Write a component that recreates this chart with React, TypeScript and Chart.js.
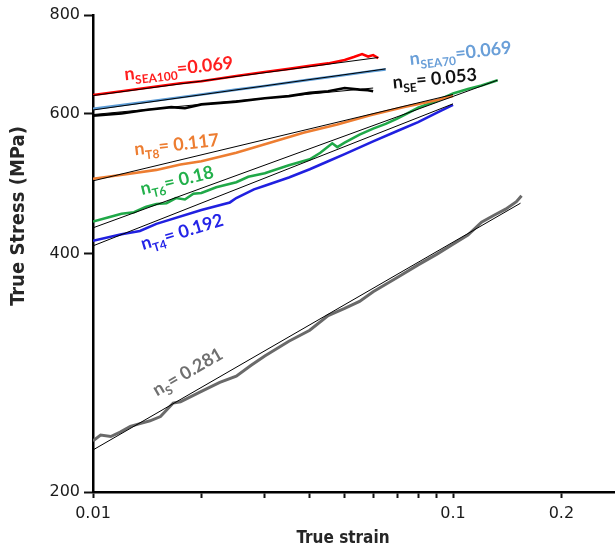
import React, { useEffect, useRef } from 'react';
import { Chart, registerables } from 'chart.js';

Chart.register(...registerables);

// ---- axis ticks ----
const xTickValues = [0.01, 0.02, 0.03, 0.04, 0.05, 0.06, 0.07, 0.08, 0.09, 0.1, 0.2];
const xTickLabels = ['0.01', '', '', '', '', '', '', '', '', '0.1', '0.2'];
const yTickValues = [200, 400, 600, 800];
const yTickLabels = ['200', '400', '600', '800'];

// ---- measured curves (true strain, true stress MPa) ----
const sea100X = [0.01, 0.012, 0.015, 0.0175, 0.02, 0.025, 0.03, 0.035, 0.04, 0.045, 0.05, 0.053, 0.0559, 0.0581, 0.06, 0.062];
const sea100Y = [634, 641, 650, 656, 660, 670, 678, 684, 690, 695, 702, 708, 714, 709, 712, 706];

const sea70X = [0.01, 0.015, 0.02, 0.025, 0.03, 0.04, 0.05, 0.06, 0.065];
const sea70Y = [609, 624, 635, 644, 651, 663, 672, 680, 683];

const seX = [0.01, 0.012, 0.014, 0.0165, 0.018, 0.02, 0.025, 0.03, 0.035, 0.04, 0.045, 0.05, 0.055, 0.058, 0.06];
const seY = [597, 601, 607, 612, 610, 617, 622, 628, 632, 638, 641, 647, 644, 643, 641];

const t8X = [0.01, 0.0125, 0.015, 0.0175, 0.02, 0.025, 0.031, 0.0384, 0.0477, 0.0589, 0.0727, 0.0905, 0.1];
const t8Y = [497, 504, 510, 518, 523, 536, 552, 568, 582, 598, 612, 625, 632];

const t6X = [0.01, 0.011, 0.012, 0.013, 0.014, 0.015, 0.016, 0.017, 0.018, 0.019, 0.02, 0.022, 0.025, 0.027, 0.03, 0.035, 0.04, 0.0428, 0.0462, 0.0477, 0.05, 0.055, 0.06, 0.065, 0.07, 0.08, 0.09, 0.1, 0.11, 0.12, 0.133];
const t6Y = [439, 444, 449, 451, 458, 462, 463, 470, 468, 476, 477, 485, 492, 500, 505, 517, 526, 536, 551, 545, 552, 565, 575, 583, 592, 611, 623, 637, 645, 652, 662];

const t4X = [0.01, 0.012, 0.0135, 0.015, 0.02, 0.024, 0.025, 0.028, 0.03, 0.035, 0.04, 0.045, 0.05, 0.06, 0.07, 0.08, 0.09, 0.1];
const t4Y = [415, 423, 427, 436, 454, 464, 470, 482, 487, 499, 511, 523, 534, 554, 571, 586, 602, 616];

const sX = [0.01, 0.0105, 0.0112, 0.0119, 0.0127, 0.0135, 0.0144, 0.0154, 0.0167, 0.0175, 0.02, 0.0225, 0.025, 0.0275, 0.03, 0.035, 0.04, 0.045, 0.05, 0.055, 0.06, 0.07, 0.08, 0.09, 0.1, 0.11, 0.12, 0.13, 0.14, 0.15, 0.155];
const sY = [232, 236, 235, 238, 242, 244, 246, 249, 259, 260, 268, 275, 280, 289, 297, 310, 320, 334, 341, 348, 358, 373, 387, 399, 411, 422, 438, 447, 455, 465, 473];

// ---- power-law fit lines (end points) ----
const fitSea100X = [0.01, 0.062];
const fitSea100Y = [633, 707];
const fitSea70X = [0.01, 0.065];
const fitSea70Y = [607, 684];
const fitSeX = [0.01, 0.06];
const fitSeY = [599, 647];
const fitT8X = [0.01, 0.1];
const fitT8Y = [494, 635];
const fitT6X = [0.01, 0.133];
const fitT6Y = [431, 662];
const fitT4X = [0.01, 0.1];
const fitT4Y = [409, 618];
const fitSX = [0.01, 0.154];
const fitSY = [226, 463];

// ---- hardening exponent labels ----
const labelSubs = ['SEA100', 'SEA70', 'SE', 'T8', 'T6', 'T4', 'S'];
const labelTexts = ['=0.069', '=0.069', '= 0.053', '= 0.117', '= 0.18', '= 0.192', '= 0.281'];
const labelColors = ['#ff1f1f', '#6a9fd8', '#111111', '#ed7d31', '#22b04b', '#2424e8', '#707070'];
const labelAnchorX = [0.01227, 0.0761, 0.0682, 0.01309, 0.01369, 0.01377, 0.01506];
const labelAnchorY = [662, 692, 646, 532, 474, 404, 264];
const labelAngles = [-6, -6.5, -5.5, -6.5, -13.5, -17, -30];

const zip = (xs: number[], ys: number[]) => xs.map((x, i) => ({ x, y: ys[i] }));

const curve = (label: string, xs: number[], ys: number[], color: string, width = 2.6) => ({
  label,
  data: zip(xs, ys),
  showLine: true,
  borderColor: color,
  backgroundColor: color,
  borderWidth: width,
  pointRadius: 0,
  tension: 0,
  fill: false,
  order: 1,
});

const fit = (label: string, xs: number[], ys: number[]) => ({
  label,
  data: zip(xs, ys),
  showLine: true,
  borderColor: '#000000',
  backgroundColor: '#000000',
  borderWidth: 1,
  pointRadius: 0,
  tension: 0,
  fill: false,
  order: 0,
});

const LABEL_FONT = 'Lato, "Open Sans", sans-serif';
const TICK_FONT = '"DejaVu Sans", Verdana, sans-serif';

const annotationPlugin = {
  id: 'nLabels',
  afterDraw(chart: any) {
    const { ctx, scales } = chart;
    const xs = scales.x;
    const ys = scales.y;
    labelSubs.forEach((sub, i) => {
      const px = xs.getPixelForValue(labelAnchorX[i]);
      const py = ys.getPixelForValue(labelAnchorY[i]);
      ctx.save();
      ctx.translate(px, py);
      ctx.rotate((labelAngles[i] * Math.PI) / 180);
      ctx.fillStyle = labelColors[i];
      ctx.textAlign = 'left';
      ctx.textBaseline = 'alphabetic';
      ctx.font = `bold 18px ${LABEL_FONT}`;
      ctx.fillText('n', 0, 0);
      let w = ctx.measureText('n').width;
      ctx.font = `bold 12px ${LABEL_FONT}`;
      ctx.fillText(sub, w, 5);
      w += ctx.measureText(sub).width;
      ctx.font = `bold 18px ${LABEL_FONT}`;
      ctx.fillText(labelTexts[i], w, 0);
      ctx.restore();
    });

    // axis titles
    ctx.save();
    ctx.fillStyle = '#262626';
    ctx.textAlign = 'center';
    ctx.textBaseline = 'middle';
    ctx.font = `bold 17px "DejaVu Sans Condensed", ${TICK_FONT}`;
    ctx.fillText('True strain', 343, 539);
    ctx.translate(19, 216);
    ctx.rotate(-Math.PI / 2);
    ctx.font = `bold 20px "DejaVu Sans Condensed", ${TICK_FONT}`;
    ctx.fillText('True Stress (MPa)', 0, 0);
    ctx.restore();
  },
};

export default function App() {
  const ref = useRef<HTMLCanvasElement>(null);

  useEffect(() => {
    document.body.style.margin = '0';
    const chart = new Chart(ref.current as HTMLCanvasElement, {
      type: 'scatter',
      data: {
        datasets: [
          curve('SEA100', sea100X, sea100Y, '#ff0000'),
          curve('SEA70', sea70X, sea70Y, '#5b9bd5'),
          curve('SE', seX, seY, '#000000'),
          curve('T8', t8X, t8Y, '#ed7d31'),
          curve('T6', t6X, t6Y, '#20a848'),
          curve('T4', t4X, t4Y, '#2020e0'),
          curve('S', sX, sY, '#6a6a6a', 3),
          fit('fit SEA100', fitSea100X, fitSea100Y),
          fit('fit SEA70', fitSea70X, fitSea70Y),
          fit('fit SE', fitSeX, fitSeY),
          fit('fit T8', fitT8X, fitT8Y),
          fit('fit T6', fitT6X, fitT6Y),
          fit('fit T4', fitT4X, fitT4Y),
          fit('fit S', fitSX, fitSY),
        ] as any,
      },
      options: {
        responsive: false,
        animation: false,
        layout: { padding: { top: 15, right: 1, left: 0, bottom: 0 } },
        plugins: {
          legend: { display: false },
          tooltip: { enabled: false },
        },
        scales: {
          x: {
            type: 'logarithmic',
            min: 0.01,
            max: 0.28,
            afterBuildTicks: (s: any) => {
              s.ticks = xTickValues.map((v) => ({ value: v }));
            },
            afterFit: (s: any) => {
              s.height = 55;
            },
            ticks: {
              autoSkip: false,
              maxRotation: 0,
              padding: 6,
              color: '#1a1a1a',
              font: { family: TICK_FONT, size: 16 },
              callback: (_v: any, i: number) => xTickLabels[i],
            },
            grid: {
              display: true,
              drawOnChartArea: false,
              drawTicks: true,
              tickLength: 6,
              tickWidth: 2,
              tickColor: '#111111',
            },
            border: { display: true, color: '#000000', width: 2.5 },
          },
          y: {
            type: 'logarithmic',
            min: 200,
            max: 800,
            afterBuildTicks: (s: any) => {
              s.ticks = yTickValues.map((v) => ({ value: v }));
            },
            afterFit: (s: any) => {
              s.width = 93;
            },
            ticks: {
              autoSkip: false,
              padding: 4,
              color: '#1a1a1a',
              font: { family: TICK_FONT, size: 16 },
              callback: (_v: any, i: number) => yTickLabels[i],
            },
            grid: {
              display: true,
              drawOnChartArea: false,
              drawTicks: true,
              tickLength: 9,
              tickWidth: 2,
              tickColor: '#111111',
            },
            border: { display: true, color: '#000000', width: 2.5 },
          },
        } as any,
      },
      plugins: [annotationPlugin],
    });
    return () => chart.destroy();
  }, []);

  return (
    <div style={{ position: 'fixed', left: 0, top: 0, width: 615, height: 547, background: '#ffffff' }}>
      <canvas ref={ref} width={615} height={547} style={{ display: 'block' }} />
    </div>
  );
}
